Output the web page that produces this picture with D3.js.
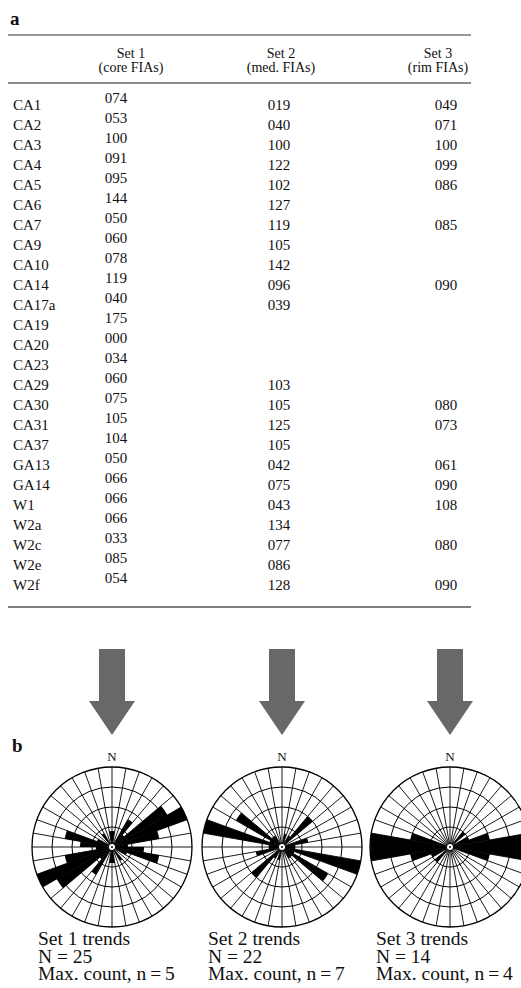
<!DOCTYPE html>
<html>
<head>
<meta charset="utf-8">
<script src="https://cdn.jsdelivr.net/npm/d3@7"></script>
<style>
    body { margin: 0; background: #fff; }
    text { font-family: "Liberation Serif", "Times New Roman", serif; fill: #111; }
</style>
</head>
<body>
<script>
// table rows (sample names)
const rowLabels = ["CA1", "CA2", "CA3", "CA4", "CA5", "CA6", "CA7", "CA9", "CA10", "CA14", "CA17a",
    "CA19", "CA20", "CA23", "CA29", "CA30", "CA31", "CA37", "GA13", "GA14", "W1", "W2a", "W2c", "W2e", "W2f"];

// FIA trends (degrees), null = no value
const set1 = [74, 53, 100, 91, 95, 144, 50, 60, 78, 119, 40, 175, 0, 34, 60, 75, 105, 104, 50, 66, 66, 66, 33, 85, 54];
const set2 = [19, 40, 100, 122, 102, 127, 119, 105, 142, 96, 39, null, null, null, 103, 105, 125, 105, 42, 75, 43, 134, 77, 86, 128];
const set3 = [49, 71, 100, 99, 86, null, 85, null, null, 90, null, null, null, null, null, 80, 73, null, 61, 90, 108, null, 80, null, 90];

const setTitles = ["Set 1", "Set 2", "Set 3"];
const setSubtitles = ["(core FIAs)", "(med. FIAs)", "(rim FIAs)"];
const maxCountLabels = [5, 7, 4];

const width = 521;
const height = 988;

const svg = d3.select("body")
    .append("svg")
    .attr("width", width)
    .attr("height", height);

// ---------- part a: table ----------
const tableLeft = 8, tableRight = 471;
const firstRow = 110, rowStep = 20;

svg.append("text")
    .attr("x", 10).attr("y", 25)
    .style("font-size", "19px").style("font-weight", "bold")
    .text("a");

const rules = [{y: 35, w: 1.2, c: "#333"}, {y: 83, w: 1.6, c: "#666"}, {y: 607, w: 1.6, c: "#555"}];
svg.selectAll(".rule")
    .data(rules)
    .enter().append("line")
    .attr("class", "rule")
    .attr("x1", tableLeft).attr("x2", tableRight)
    .attr("y1", d => d.y).attr("y2", d => d.y)
    .attr("stroke", d => d.c)
    .attr("stroke-width", d => d.w);

const headerX = [131, 281, 438];
const valueX = [116, 279, 446];
const valueShift = [-7, 0, 0];

const header = svg.append("g").style("font-size", "14px").attr("text-anchor", "middle");
header.selectAll(".h1")
    .data(setTitles)
    .enter().append("text")
    .attr("x", (d, i) => headerX[i]).attr("y", 58)
    .text(d => d);
header.selectAll(".h2")
    .data(setSubtitles)
    .enter().append("text")
    .attr("x", (d, i) => headerX[i]).attr("y", 71.5)
    .text(d => d);

const yRow = d3.scaleLinear()
    .domain([0, rowLabels.length - 1])
    .range([firstRow, firstRow + rowStep * (rowLabels.length - 1)]);

const body = svg.append("g").style("font-size", "15px");
body.selectAll(".label")
    .data(rowLabels)
    .enter().append("text")
    .attr("x", 13)
    .attr("y", (d, i) => yRow(i))
    .text(d => d);

const fmt = d3.format("03d");
[set1, set2, set3].forEach(function (values, s) {
    const cells = values
        .map((v, i) => ({v: v, row: i}))
        .filter(d => d.v !== null);
    body.selectAll(".v" + s)
        .data(cells)
        .enter().append("text")
        .attr("text-anchor", "middle")
        .attr("x", valueX[s])
        .attr("y", d => yRow(d.row) + valueShift[s])
        .text(d => fmt(d.v));
});

// ---------- arrows ----------
const centers = [112, 282, 450];
const arrow = d3.line();
centers.forEach(function (cx) {
    const pts = [[cx - 13, 649], [cx + 13, 649], [cx + 13, 701], [cx + 23, 701],
        [cx, 735], [cx - 23, 701], [cx - 13, 701]];
    svg.append("path")
        .attr("d", arrow(pts) + "Z")
        .attr("fill", "#686868");
});

// ---------- part b: rose diagrams ----------
svg.append("text")
    .attr("x", 12).attr("y", 752)
    .style("font-size", "19px").style("font-weight", "bold")
    .text("b");

const roseY = 847, R = 80;
const binner = d3.bin()
    .domain([0, 180])
    .thresholds(d3.range(10, 180, 10));
const toRad = d3.scaleLinear().domain([0, 360]).range([0, 2 * Math.PI]);
const ringScale = d3.scaleLinear().domain([0, 4]).range([0, R]);

[set1, set2, set3].forEach(function (values, s) {
    const cx = centers[s];
    const g = svg.append("g").attr("transform", "translate(" + cx + "," + roseY + ")");
    const bins = binner(values.filter(d => d !== null));
    const rScale = d3.scaleLinear()
        .domain([0, d3.max(bins, b => b.length)])
        .range([0, R]);

    // petals, bidirectional
    const petal = d3.arc().innerRadius(0);
    [0, 180].forEach(function (off) {
        g.selectAll(".p" + off)
            .data(bins.filter(b => b.length > 0))
            .enter().append("path")
            .attr("d", b => petal({
                outerRadius: rScale(b.length),
                startAngle: toRad(b.x0 + off),
                endAngle: toRad(b.x1 + off)
            }))
            .attr("fill", "#000");
    });

    // spokes every 10 degrees
    g.selectAll(".spoke")
        .data(d3.range(0, 180, 10))
        .enter().append("line")
        .attr("x1", d => R * Math.sin(toRad(d))).attr("y1", d => -R * Math.cos(toRad(d)))
        .attr("x2", d => -R * Math.sin(toRad(d))).attr("y2", d => R * Math.cos(toRad(d)))
        .attr("stroke", "#000").attr("stroke-width", 0.9);

    g.selectAll(".ring")
        .data(d3.range(1, 5))
        .enter().append("circle")
        .attr("r", d => ringScale(d))
        .attr("fill", "none")
        .attr("stroke", "#000")
        .attr("stroke-width", d => d === 4 ? 1.3 : 1);

    g.append("circle").attr("r", 3.6).attr("fill", "#fff").attr("stroke", "#000").attr("stroke-width", 1);
    g.append("circle").attr("r", 1).attr("fill", "#000");

    g.append("text")
        .attr("text-anchor", "middle")
        .attr("y", -86)
        .style("font-size", "13px")
        .text("N");

    const cap = svg.append("g").style("font-size", "19.5px");
    const capX = cx - 74;
    cap.append("text").attr("x", capX).attr("y", 945).text(setTitles[s] + " trends");
    cap.append("text").attr("x", capX).attr("y", 962.5).text("N = " + values.filter(d => d !== null).length);
    cap.append("text").attr("x", capX).attr("y", 980).text("Max. count, n\u2009=\u2009" + maxCountLabels[s]);
});
</script>
</body>
</html>
